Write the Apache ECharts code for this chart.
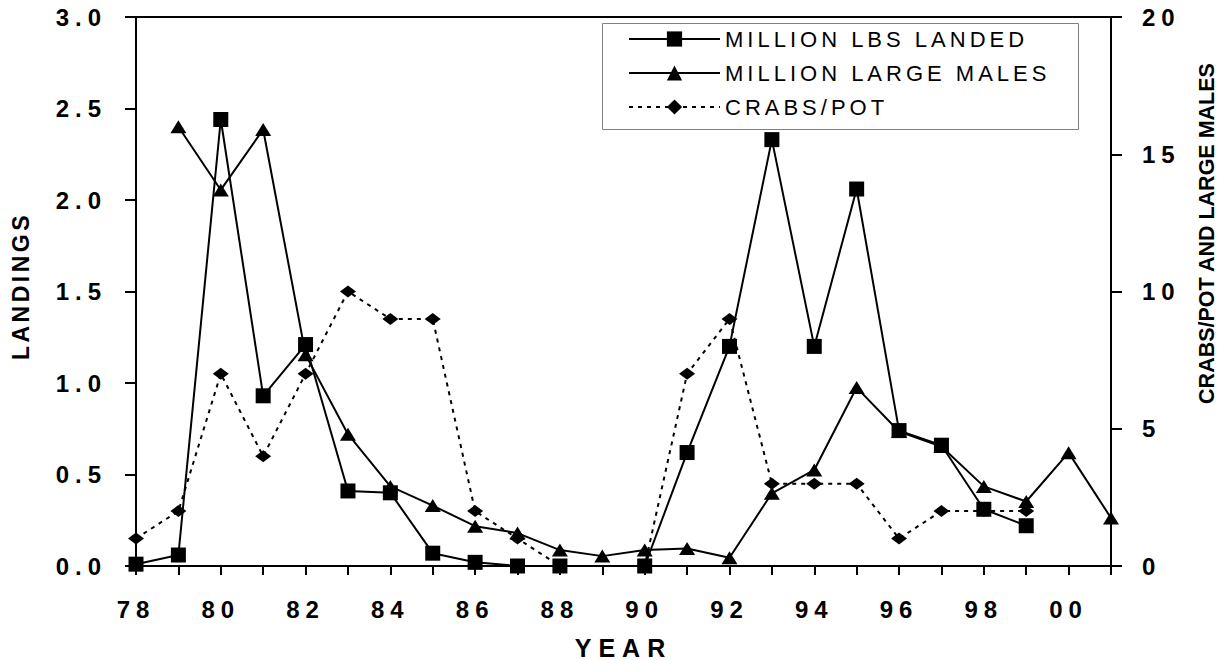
<!DOCTYPE html>
<html>
<head>
<meta charset="utf-8">
<script src="https://cdn.jsdelivr.net/npm/echarts@6/dist/echarts.min.js"></script>
<style>
  html, body { margin: 0; padding: 0; background: #fff; }
  #chart { width: 1229px; height: 660px; }
  /* spaced-out lettering used by the tick labels, legend and titles */
  #chart text[style*="24px"] { letter-spacing: 6px; }
  #chart text[style*="22px"] { letter-spacing: 4px; }
  #chart text[style*="25px"] { letter-spacing: 7px; }
  #chart text[style*="23px"] { letter-spacing: 3.5px; }
</style>
</head>
<body>
<div id="chart"></div>
<script>
// Survey years, 1978 through 2001
const years = ['78','79','80','81','82','83','84','85','86','87','88','89',
               '90','91','92','93','94','95','96','97','98','99','00','01'];

// Landings, million lbs (left axis)
const landings = [0.01, 0.06, 2.44, 0.93, 1.21, 0.41, 0.40, 0.07, 0.02, 0.00, 0.00, null,
                  0.00, 0.62, 1.20, 2.33, 1.20, 2.06, 0.74, 0.66, 0.31, 0.22, null, null];

// Large males, millions (right axis)
const largeMales = [null, 16.0, 13.7, 15.9, 7.7, 4.8, 2.9, 2.2, 1.45, 1.2, 0.58, 0.36,
                    0.58, 0.64, 0.30, 2.65, 3.5, 6.5, 4.9, 4.35, 2.9, 2.35, 4.13, 1.75];

// Catch per pot (right axis)
const crabsPerPot = [1, 2, 7, 4, 7, 10, 9, 9, 2, 1, 0, null,
                     0, 7, 9, 3, 3, 3, 1, 2, 2, 2, null, null];

const seriesNames = ['MILLION LBS LANDED', 'MILLION LARGE MALES', 'CRABS/POT'];

const FONT = 'Arial, "Liberation Sans", sans-serif';
const black = '#000';

const chart = echarts.init(document.getElementById('chart'), null, { renderer: 'svg' });

const tickLabel = { fontFamily: FONT, fontSize: 24, fontWeight: 'bold', color: black };

chart.setOption({
  animation: false,
  backgroundColor: '#fff',
  grid: {
    left: 136, right: 118, top: 17, bottom: 94,
    outerBoundsMode: 'none',
    containLabel: false,
    show: true, borderColor: black, borderWidth: 2, backgroundColor: 'transparent'
  },
  graphic: [{
    type: 'rect',
    shape: { x: 602.5, y: 23.5, width: 476, height: 106 },
    style: { fill: '#fff', stroke: '#808080', lineWidth: 1 },
    z: 5
  }],
  legend: {
    data: seriesNames,
    orient: 'vertical',
    left: 623, top: 23,
    itemWidth: 91, itemHeight: 19, itemGap: 12,
    selectedMode: false,
    textStyle: { fontFamily: FONT, fontSize: 22, color: black, lineHeight: 22 },
    z: 10
  },
  xAxis: {
    type: 'category',
    data: years,
    boundaryGap: false,
    name: 'YEAR',
    nameLocation: 'middle',
    nameGap: 69,
    nameTextStyle: { fontFamily: FONT, fontSize: 25, fontWeight: 'bold', color: black },
    axisLine: { lineStyle: { color: black, width: 2 } },
    axisTick: { interval: 0, length: 9, lineStyle: { color: black, width: 2 } },
    axisLabel: Object.assign({ interval: 1, margin: 31 }, tickLabel),
    splitLine: { show: false }
  },
  yAxis: [{
    type: 'value',
    min: 0, max: 3, interval: 0.5,
    position: 'left',
    name: 'LANDINGS',
    nameLocation: 'middle',
    nameRotate: 90,
    nameGap: 104,
    nameTextStyle: { fontFamily: FONT, fontSize: 23, fontWeight: 'bold', color: black, padding: [0, 0, 0, 11] },
    axisLine: { show: true, lineStyle: { color: black, width: 2 } },
    axisTick: { show: true, length: 11, lineStyle: { color: black, width: 2 } },
    axisLabel: Object.assign({ margin: 29, formatter: v => v.toFixed(1) }, tickLabel),
    splitLine: { show: false }
  }, {
    type: 'value',
    min: 0, max: 20, interval: 5,
    position: 'right',
    name: 'CRABS/POT AND LARGE MALES',
    nameLocation: 'middle',
    nameRotate: 90,
    nameGap: 85,
    nameTextStyle: { fontFamily: FONT, fontSize: 21.5, fontWeight: 'bold', color: black, padding: [0, 0, 0, 116] },
    axisLine: { show: true, lineStyle: { color: black, width: 2 } },
    axisTick: { show: true, length: 11, lineStyle: { color: black, width: 2 } },
    axisLabel: Object.assign({ margin: 31 }, tickLabel),
    splitLine: { show: false }
  }],
  series: [{
    name: 'CRABS/POT',
    type: 'line',
    yAxisIndex: 1,
    data: crabsPerPot,
    connectNulls: true,
    showAllSymbol: true,
    symbol: 'diamond',
    symbolSize: [16, 12],
    lineStyle: { color: black, width: 2, type: [4, 5] },
    itemStyle: { color: black },
    z: 2
  }, {
    name: 'MILLION LARGE MALES',
    type: 'line',
    yAxisIndex: 1,
    data: largeMales,
    showAllSymbol: true,
    symbol: 'triangle',
    symbolSize: [16, 13],
    lineStyle: { color: black, width: 2 },
    itemStyle: { color: black },
    z: 3
  }, {
    name: 'MILLION LBS LANDED',
    type: 'line',
    yAxisIndex: 0,
    data: landings,
    connectNulls: true,
    showAllSymbol: true,
    symbol: 'rect',
    symbolSize: 15,
    lineStyle: { color: black, width: 2 },
    itemStyle: { color: black },
    z: 4
  }]
});
</script>
</body>
</html>
